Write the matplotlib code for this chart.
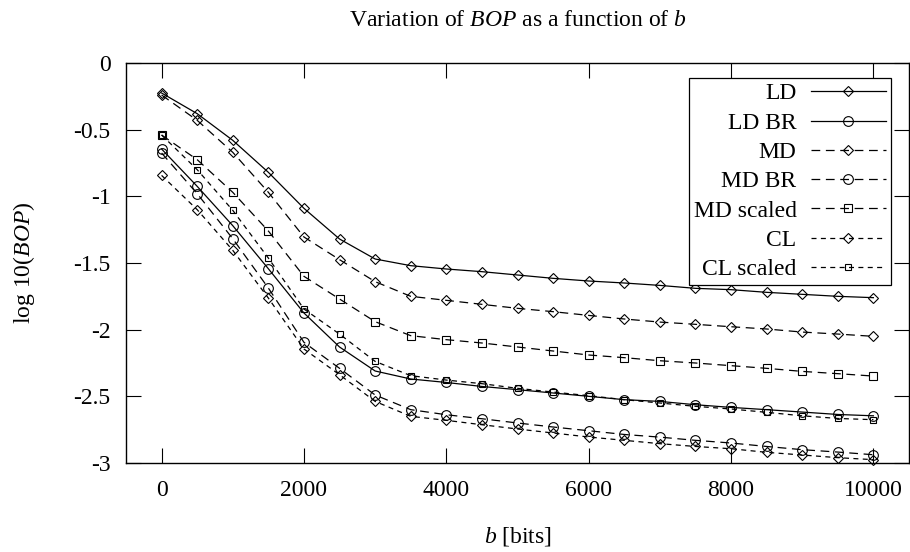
import matplotlib
matplotlib.use("Agg")
from matplotlib import pyplot as plt
from matplotlib.ticker import FuncFormatter

plt.rcParams['font.family'] = ['Liberation Serif', 'DejaVu Serif']
plt.rcParams['mathtext.fontset'] = 'custom'
plt.rcParams['mathtext.rm'] = 'Liberation Serif'
plt.rcParams['mathtext.it'] = 'Liberation Serif:italic'
plt.rcParams['axes.unicode_minus'] = False

# b values (bits)
b = [0, 500, 1000, 1500, 2000, 2500, 3000, 3500, 4000, 4500, 5000,
     5500, 6000, 6500, 7000, 7500, 8000, 8500, 9000, 9500, 10000]

# log10(BOP)
ld = [-0.225, -0.38, -0.58, -0.82, -1.09, -1.32, -1.47, -1.52, -1.545, -1.565, -1.59,
      -1.615, -1.635, -1.65, -1.668, -1.69, -1.70, -1.72, -1.735, -1.75, -1.76]
ld_br = [-0.645, -0.925, -1.22, -1.543, -1.875, -2.13, -2.31, -2.37, -2.396, -2.426, -2.45,
         -2.475, -2.50, -2.525, -2.538, -2.563, -2.583, -2.60, -2.618, -2.636, -2.646]
md = [-0.24, -0.43, -0.67, -0.97, -1.305, -1.475, -1.64, -1.75, -1.78, -1.81, -1.84,
      -1.865, -1.893, -1.92, -1.943, -1.96, -1.978, -1.995, -2.018, -2.033, -2.05]
md_br = [-0.675, -0.98, -1.318, -1.688, -2.095, -2.29, -2.49, -2.60, -2.638, -2.668, -2.70,
         -2.73, -2.758, -2.786, -2.806, -2.83, -2.85, -2.876, -2.90, -2.918, -2.938]
md_scaled = [-0.54, -0.725, -0.97, -1.26, -1.60, -1.77, -1.94, -2.045, -2.075, -2.10, -2.13,
             -2.16, -2.19, -2.21, -2.233, -2.25, -2.27, -2.29, -2.313, -2.33, -2.348]
cl = [-0.843, -1.10, -1.405, -1.763, -2.145, -2.338, -2.538, -2.65, -2.68, -2.713, -2.745,
      -2.775, -2.805, -2.83, -2.855, -2.876, -2.893, -2.92, -2.94, -2.96, -2.975]
cl_scaled = [-0.54, -0.80, -1.105, -1.463, -1.845, -2.033, -2.238, -2.345, -2.378, -2.405, -2.44,
             -2.468, -2.495, -2.525, -2.55, -2.575, -2.595, -2.62, -2.646, -2.666, -2.675]

x_ticks = [0, 2000, 4000, 6000, 8000, 10000]
y_ticks = [0, -0.5, -1, -1.5, -2, -2.5, -3]

FS = 17
long_dash = (0, (7, 4.5))
short_dash = (0, (4, 3.5))

fig = plt.figure(figsize=(9.1, 5.52), dpi=100)
ax = fig.add_axes([126 / 910, 89 / 552, 783 / 910, 400 / 552])

series = [
    ("LD", ld, '-', 'D', 5.2),
    ("LD BR", ld_br, '-', 'o', 7.0),
    ("MD", md, long_dash, 'D', 5.2),
    ("MD BR", md_br, long_dash, 'o', 7.0),
    ("MD scaled", md_scaled, long_dash, 's', 5.3),
    ("CL", cl, short_dash, 'D', 5.2),
    ("CL scaled", cl_scaled, short_dash, 's', 4.3),
]
for name, vals, ls, mk, ms in series:
    ax.plot(b, vals, color='black', linestyle=ls, linewidth=0.9, marker=mk,
            markersize=ms, markerfacecolor='none', markeredgecolor='black',
            markeredgewidth=0.8, label=name, clip_on=False)

ax.set_xlim(-500, 10500)
ax.set_ylim(-3, 0)
ax.set_xticks(x_ticks)
ax.set_yticks(y_ticks)
ax.yaxis.set_major_formatter(FuncFormatter(lambda v, p: '%g' % v))
ax.tick_params(direction='in', length=11, width=0.8, top=True, right=True,
               labelsize=FS, colors='black')
ax.tick_params(axis='x', pad=12)
ax.tick_params(axis='y', pad=11)
for s in ax.spines.values():
    s.set_linewidth(1.0)

ax.set_title("Variation of $BOP$ as a function of $b$", fontsize=FS, pad=26.5)
ax.set_xlabel("$b$ [bits]", fontsize=FS)
ax.set_ylabel("log 10($BOP$)", fontsize=FS)
ax.xaxis.set_label_coords(0.5, -0.155)
ax.yaxis.set_label_coords(-0.114, 0.5)

leg = ax.legend(loc='upper right', bbox_to_anchor=(0.977, 0.962), borderaxespad=0,
                markerfirst=False, fontsize=FS, frameon=True, fancybox=False,
                edgecolor='black', framealpha=1, handlelength=3.2, handletextpad=0.6,
                labelspacing=0.33, borderpad=0.2)
leg.get_frame().set_linewidth(0.9)

fig.savefig("out.png", dpi=100)
